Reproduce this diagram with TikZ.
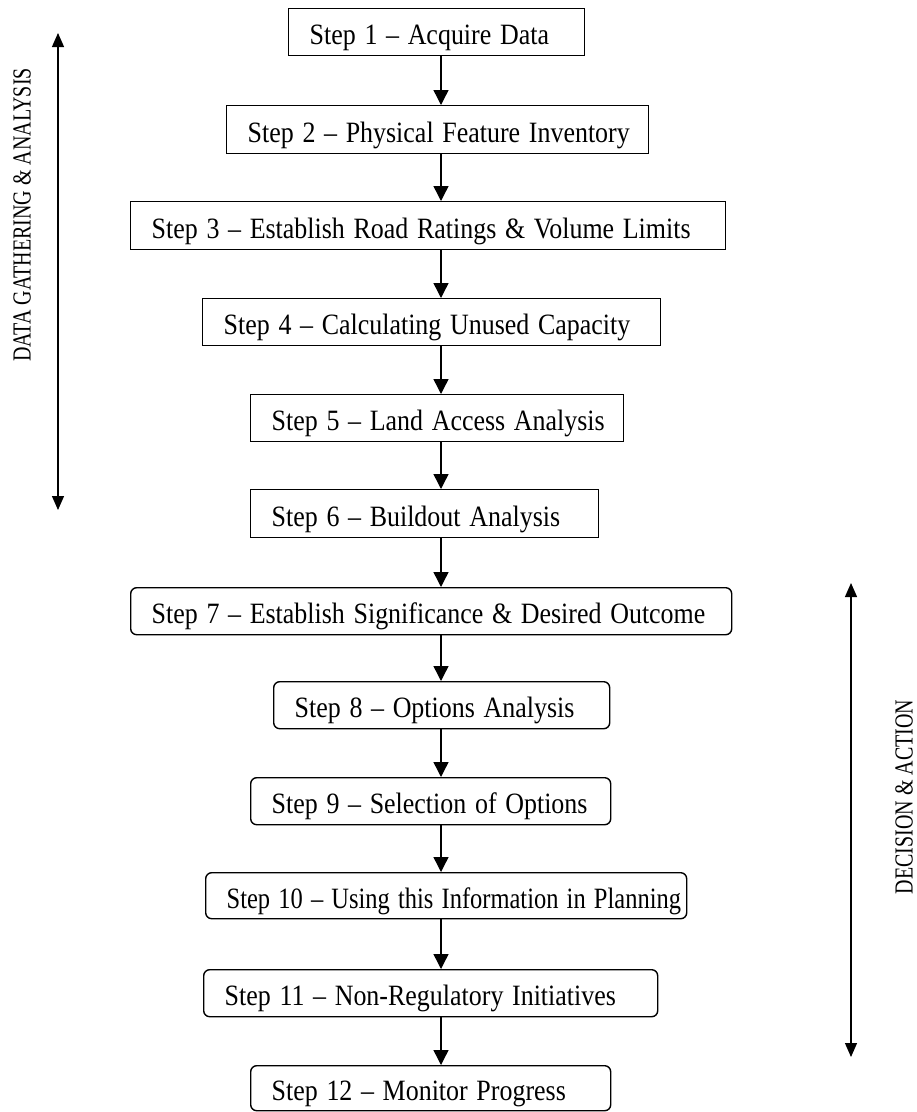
\documentclass[tikz,border=0pt]{standalone}
\usepackage{fontspec}
\setmainfont{Liberation Serif}
\usetikzlibrary{arrows.meta}
\newcommand\stepnode[8][0.88]{%
  \pgfmathsetmacro\bw{#5-#4}%
  \pgfmathsetmacro\bh{#7-#6}%
  \pgfmathsetmacro\tw{#5-#4-42}%
  \node[#2, minimum width=\bw pt, minimum height=\bh pt, text width=\tw pt, anchor=north west] (#3) at (#4,#6) {\scalebox{#1}[1]{\mbox{#8}}};}
\begin{document}
\begin{tikzpicture}[x=1pt,y=-1pt,
  sqbox/.style={draw, line width=1.4pt, inner xsep=21pt, inner ysep=0pt, align=left,
    font=\fontsize{29.5}{32}\selectfont, text height=25pt, text depth=0pt},
  rdbox/.style={sqbox, rounded corners=6pt},
  flow/.style={line width=1.4pt, -{Triangle[width=15pt,length=15pt]}},
  side/.style={line width=1.2pt, {Triangle[width=12pt,length=14pt]}-{Triangle[width=12pt,length=14pt]}},
  sidelab/.style={rotate=90, font=\fontsize{20}{24}\selectfont, inner sep=0pt}]
\useasboundingbox (0,0) rectangle (917,1112);
\coordinate (spine) at (441,0);
\stepnode{sqbox}{s1}{288}{584}{8}{55}{Step 1 -- Acquire Data}
\stepnode{sqbox}{s2}{226}{648}{105}{153}{Step 2 -- Physical Feature Inventory}
\stepnode{sqbox}{s3}{130}{725}{201}{249}{Step 3 -- Establish Road Ratings \& Volume Limits}
\stepnode{sqbox}{s4}{202}{660}{298}{345}{Step 4 -- Calculating Unused Capacity}
\stepnode{sqbox}{s5}{250}{623}{394}{441}{Step 5 -- Land Access Analysis}
\stepnode{sqbox}{s6}{250}{598}{489}{537}{Step 6 -- Buildout Analysis}
\stepnode{rdbox}{s7}{130}{731}{587}{634}{Step 7 -- Establish Significance \& Desired Outcome}
\stepnode{rdbox}{s8}{273}{609}{681}{728}{Step 8 -- Options Analysis}
\stepnode{rdbox}{s9}{250}{610}{777}{824}{Step 9 -- Selection of Options}
\stepnode[0.83]{rdbox}{s10}{205}{686}{872}{918}{Step 10 -- Using this Information in Planning}
\stepnode{rdbox}{s11}{203}{657}{969}{1016}{Step 11 -- Non-Regulatory Initiatives}
\stepnode{rdbox}{s12}{250}{610}{1065}{1110}{Step 12 -- Monitor Progress}
\foreach \a/\b in {s1/s2,s2/s3,s3/s4,s4/s5,s5/s6,s6/s7,s7/s8,s8/s9,s9/s10,s10/s11,s11/s12}
  \draw[flow] (\a.south -| spine) -- (\b.north -| spine);
\coordinate (ltop) at (58,33);
\coordinate (lbot) at (58,510);
\draw[side] (ltop) -- (lbot);
\node[sidelab] (llab) at (22,215) {\scalebox{1}[1.3]{DATA GATHERING \& ANALYSIS}};
\coordinate (rtop) at (851,583);
\coordinate (rbot) at (851,1057);
\draw[side] (rtop) -- (rbot);
\node[sidelab] (rlab) at (904,797) {\scalebox{1}[1.3]{DECISION \& ACTION}};
\end{tikzpicture}
\end{document}
